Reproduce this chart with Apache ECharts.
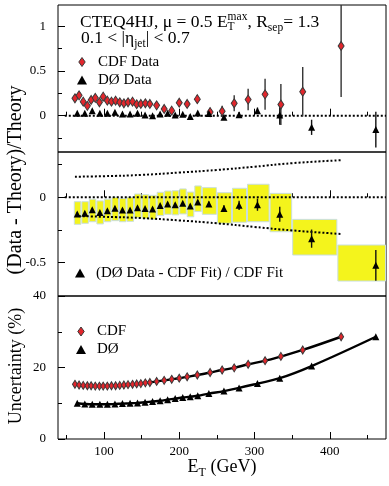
<!DOCTYPE html>
<html><head><meta charset="utf-8">
<script src="https://cdn.jsdelivr.net/npm/echarts@6/dist/echarts.min.js"></script>
<style>html,body{margin:0;padding:0;background:#fff}#c{width:389px;height:486px}</style>
</head><body><div id="c"></div>
<script>
const FONT = '"Liberation Serif","Times New Roman",serif';

// ---------- data ----------
const cdfEt = [61.5,67,72.5,78,83,88.5,94,99,104.5,110,115.5,121,126.5,132,138,143.5,149,155,161,170,180,190,200,210.5,224,241,257,273,291.5,314,335,364,415];
const cdfRatio = [0.195,0.228,0.157,0.11,0.176,0.2,0.15,0.213,0.168,0.157,0.168,0.15,0.139,0.15,0.157,0.128,0.131,0.139,0.131,0.116,0.075,0.056,0.145,0.131,0.185,0.04,0.05,0.139,0.18,0.239,0.125,0.268,0.78];
const cdfRatioErr = [0.02,0.02,0.02,0.02,0.02,0.02,0.02,0.02,0.02,0.02,0.02,0.02,0.02,0.02,0.02,0.02,0.02,0.02,0.02,0.025,0.025,0.03,0.035,0.045,0.045,0.05,0.06,0.09,0.12,0.173,0.23,0.276,0.57];

const d0Et = [64.6,74.6,84.5,94.6,104.6,114.6,124.6,134.7,144.6,154.6,164.6,174.6,184.6,194.6,204.7,214.6,224.6,239.4,259.4,279.5,303.9,333.5,375.8,461.1];
const d0Ratio = [0.027,0.027,0.056,0.027,0.027,0.038,0.019,0.019,0.027,0.008,0.0,0.019,0.027,0.008,0.015,-0.008,0.03,0.025,-0.018,0.01,0.056,0.008,-0.13,-0.155];
const d0RatioErr = [0.01,0.01,0.01,0.01,0.01,0.01,0.01,0.01,0.01,0.01,0.01,0.01,0.01,0.01,0.012,0.012,0.015,0.02,0.02,0.03,0.035,0.11,0.085,0.2];

const binLo = [60,70,80,90,100,110,120,130,140,150,160,170,180,190,200,210,220,230,250,270,290,320,350,410];
const binHi = [70,80,90,100,110,120,130,140,150,160,170,180,190,200,210,220,230,250,270,290,320,350,410,560];
const bandTop = [-0.034,-0.034,-0.015,-0.028,-0.015,0.0,-0.008,0.0,0.025,0.02,0.015,0.038,0.048,0.05,0.064,0.04,0.087,0.074,0.035,0.069,0.1,0.03,-0.17,-0.367];
const bandBottom = [-0.208,-0.2,-0.188,-0.205,-0.188,-0.18,-0.188,-0.185,-0.157,-0.165,-0.17,-0.141,-0.131,-0.135,-0.128,-0.15,-0.11,-0.131,-0.2,-0.192,-0.188,-0.265,-0.444,-0.644];
const d0FitDiff = [-0.128,-0.123,-0.095,-0.118,-0.103,-0.085,-0.098,-0.098,-0.080,-0.087,-0.090,-0.064,-0.052,-0.058,-0.046,-0.067,-0.036,-0.052,-0.087,-0.062,-0.057,-0.131,-0.318,-0.523];
const d0FitDiffErr = [0.012,0.012,0.012,0.012,0.012,0.012,0.012,0.012,0.012,0.012,0.012,0.012,0.012,0.012,0.012,0.012,0.012,0.02,0.025,0.036,0.047,0.058,0.07,0.118];

const cdfBandEt = [61.5,100,150,200,250,300,350,415];
const cdfBandUp = [0.158,0.162,0.172,0.19,0.21,0.235,0.262,0.285];
const cdfBandLow = [-0.144,-0.15,-0.16,-0.178,-0.2,-0.228,-0.255,-0.282];

const cdfUnc = [15.3,15.1,15.0,14.9,14.9,14.8,14.8,14.8,14.8,14.9,14.9,15.0,15.1,15.2,15.3,15.4,15.5,15.7,15.8,16.1,16.4,16.7,17.0,17.4,17.9,18.6,19.3,19.9,20.9,21.9,23.1,24.9,28.6];
const d0Unc = [10.0,9.8,9.7,9.7,9.7,9.8,9.9,10.0,10.1,10.3,10.5,10.7,11.0,11.3,11.6,11.8,12.1,12.7,13.4,14.3,15.5,17.0,20.4,28.6];

const zeroLineEt = [48, 474.6];

const xTicksMajor = [100,200,300,400];
const xTicksMinor = [50,150,250,350,450];
const topTicksMajor = [0,0.5,1];
const topTicksMinor = [-0.25,0.25,0.75];
const midTicksMajor = [-0.5,0];
const midTicksMinor = [-0.25,0.25];
const botTicksMajor = [0,20,40];
const botTicksMinor = [10,30];

// ---------- helpers ----------
const XMIN = 39, XMAX = 474.6;
const zip = (a, b, c) => a.map((v, i) => c ? [v, b[i], c[i]] : [v, b[i]]);
const ctx = document.createElement('canvas').getContext('2d');
function tw(s, size) { ctx.font = size + 'px ' + FONT; return ctx.measureText(s).width; }
function txt(x, baseY, t, size, align) {
  return { type: 'text', x: x, y: baseY - 0.34 * size, z: 100,
    style: { text: t, fontSize: size, fontFamily: FONT, fill: '#000',
      align: align || 'left', textAlign: align || 'left', verticalAlign: 'middle', textVerticalAlign: 'middle' } };
}
function line(x, baseY, segs) {
  const els = []; let cx = x;
  segs.forEach(s => {
    if (s.stack) {
      let w = 0;
      s.stack.forEach(p => { els.push(txt(cx, baseY + p.dy, p.t, p.size)); w = Math.max(w, tw(p.t, p.size)); });
      cx += w;
    } else {
      els.push(txt(cx, baseY + (s.dy || 0), s.t, s.size)); cx += tw(s.t, s.size);
    }
  });
  return els;
}
function widthOf(segs) { return segs.reduce((a, s) => a + (s.stack ? Math.max(...s.stack.map(p => tw(p.t, p.size))) : tw(s.t, s.size)), 0); }

function xAx(g, vals, len, labels) {
  return { type: 'value', gridIndex: g, min: XMIN, max: XMAX, position: 'bottom',
    axisLine: { show: false }, splitLine: { show: false },
    axisTick: { show: true, inside: true, length: len, customValues: vals, lineStyle: { color: '#000', width: 1 } },
    axisLabel: labels ? { show: true, customValues: vals, margin: 6, fontSize: 13, fontFamily: FONT, color: '#000' } : { show: false } };
}
function yAx(g, min, max, vals, len, labels) {
  return { type: 'value', gridIndex: g, min: min, max: max, position: 'left',
    axisLine: { show: false }, splitLine: { show: false },
    axisTick: { show: true, inside: true, length: len, customValues: vals, lineStyle: { color: '#000', width: 1 } },
    axisLabel: labels ? { show: true, customValues: vals, margin: 12, fontSize: 13, fontFamily: FONT, color: '#000' } : { show: false } };
}
function errBar(color, w) {
  return function (params, api) {
    const cs = params.coordSys;
    const x = api.value(0), y = api.value(1), e = api.value(2);
    const a = api.coord([x, y + e]), b = api.coord([x, y - e]);
    const t = Math.max(cs.y, Math.min(a[1], b[1])), bt = Math.min(cs.y + cs.height, Math.max(a[1], b[1]));
    return { type: 'line', shape: { x1: a[0], y1: t, x2: a[0], y2: bt }, style: { stroke: color, lineWidth: w } };
  };
}
function boxItem(params, api) {
  const cs = params.coordSys;
  const p0 = api.coord([api.value(0), api.value(2)]);
  const p1 = api.coord([api.value(1), api.value(3)]);
  const x0 = Math.max(cs.x, p0[0]), x1 = Math.min(cs.x + cs.width, p1[0]);
  return { type: 'rect', shape: { x: x0 + 0.5, y: p0[1], width: x1 - x0 - 1, height: p1[1] - p0[1] },
    style: { fill: '#f4f41c', stroke: '#c9dede', lineWidth: 1 } };
}

const RED = '#e2262c', EDGE = '#3a3a3a';
const DIAMOND_PATH = 'path://M5,0 L10,7 L5,14 L0,7 Z';
const TRI_PATH = 'path://M5,0 L10,9 L0,9 Z';
const dotted = { color: '#000', width: 2, type: [2, 2] };

// ---------- text ----------
const TS = 17.5, SS = 11.5;
const title1 = [
  { t: 'CTEQ4HJ, \u03bc = 0.5 E', size: TS },
  { stack: [{ t: 'max', size: SS, dy: -7 }, { t: 'T', size: SS, dy: 3 }] },
  { t: ', R', size: TS },
  { t: 'sep', size: SS, dy: 4 },
  { t: '= 1.3', size: TS }
];
const title2 = [
  { t: '0.1 < |\u03b7', size: TS },
  { t: 'jet', size: SS, dy: 4 },
  { t: '| < 0.7', size: TS }
];
const xTitle = [
  { t: 'E', size: 18 },
  { t: 'T', size: 12, dy: 4 },
  { t: ' (GeV)', size: 18 }
];
const graphics = [].concat(
  line(80, 28, title1),
  line(81, 44, title2),
  line(222 - widthOf(xTitle) / 2, 473, xTitle),
  [
    { type: 'text', x: 16, y: 180, rotation: Math.PI / 2, z: 100,
      style: { text: '(Data - Theory)/Theory', fontSize: 20, fontFamily: FONT, fill: '#000', align: 'center', textAlign: 'center', verticalAlign: 'middle', textVerticalAlign: 'middle' } },
    { type: 'text', x: 16, y: 366, rotation: Math.PI / 2, z: 100,
      style: { text: 'Uncertainty (%)', fontSize: 18, fontFamily: FONT, fill: '#000', align: 'center', textAlign: 'center', verticalAlign: 'middle', textVerticalAlign: 'middle' } }
  ]
);

const legText = { fontSize: 15, fontFamily: FONT, color: '#000' };
const legBase = { orient: 'vertical', itemWidth: 22, itemHeight: 9, itemGap: 3, padding: 0, selectedMode: false, textStyle: legText };

const option = {
  animation: false,
  backgroundColor: '#fff',
  grid: [
    { left: 58, top: 5, width: 328, height: 147, show: true, borderColor: '#000', borderWidth: 1, outerBoundsMode: 'none' },
    { left: 58, top: 152, width: 328, height: 144, show: true, borderColor: '#000', borderWidth: 1, outerBoundsMode: 'none' },
    { left: 58, top: 296, width: 328, height: 143, show: true, borderColor: '#000', borderWidth: 1, outerBoundsMode: 'none' }
  ],
  xAxis: [
    xAx(0, xTicksMajor, 7, false), xAx(0, xTicksMinor, 4, false),
    xAx(1, xTicksMajor, 7, false), xAx(1, xTicksMinor, 4, false),
    xAx(2, xTicksMajor, 7, true), xAx(2, xTicksMinor, 4, false)
  ],
  yAxis: [
    yAx(0, -0.406, 1.238, topTicksMajor, 7, true), yAx(0, -0.406, 1.238, topTicksMinor, 4, false),
    yAx(1, -0.759, 0.348, midTicksMajor, 7, true), yAx(1, -0.759, 0.348, midTicksMinor, 4, false),
    yAx(2, 0, 40, botTicksMajor, 7, true), yAx(2, 0, 40, botTicksMinor, 4, false)
  ],
  legend: [
    Object.assign({}, legBase, { left: 77, top: 54.5, data: [
      { name: 'CDF Data', icon: DIAMOND_PATH, itemStyle: { color: RED, borderColor: EDGE, borderWidth: 1 } },
      { name: 'D\u00d8 Data', icon: TRI_PATH, itemStyle: { color: '#000', borderWidth: 0 } }] }),
    Object.assign({}, legBase, { left: 75, top: 265.5, data: [
      { name: '(D\u00d8 Data - CDF Fit) / CDF Fit', icon: TRI_PATH, itemStyle: { color: '#000', borderWidth: 0 } }] }),
    Object.assign({}, legBase, { left: 76, top: 324, data: [
      { name: 'CDF', icon: DIAMOND_PATH, itemStyle: { color: RED, borderColor: EDGE, borderWidth: 1 } },
      { name: 'D\u00d8', icon: TRI_PATH, itemStyle: { color: '#000', borderWidth: 0 } }] })
  ],
  graphic: { elements: graphics },
  series: [
    // ---- top panel ----
    { type: 'line', name: 'zeroTop', xAxisIndex: 0, yAxisIndex: 0, data: zeroLineEt.map(x => [x, 0]),
      symbol: 'none', lineStyle: dotted, z: 2, silent: true },
    { type: 'custom', name: 'cdfErr', xAxisIndex: 0, yAxisIndex: 0, renderItem: errBar('#333', 1.4),
      data: zip(cdfEt, cdfRatio, cdfRatioErr), encode: { x: 0, y: 1 }, z: 3 },
    { type: 'custom', name: 'd0Err', xAxisIndex: 0, yAxisIndex: 0, renderItem: errBar('#111', 1.4),
      data: zip(d0Et, d0Ratio, d0RatioErr), encode: { x: 0, y: 1 }, z: 3 },
    { type: 'scatter', name: 'CDF Data', xAxisIndex: 0, yAxisIndex: 0, data: zip(cdfEt, cdfRatio),
      symbol: 'diamond', symbolSize: [6, 9], itemStyle: { color: RED, borderColor: EDGE, borderWidth: 1, opacity: 1 }, z: 5 },
    { type: 'scatter', name: 'D\u00d8 Data', xAxisIndex: 0, yAxisIndex: 0, data: zip(d0Et, d0Ratio),
      symbol: 'triangle', symbolSize: 7, itemStyle: { color: '#000', opacity: 1 }, z: 5 },

    // ---- middle panel ----
    { type: 'custom', name: 'band', xAxisIndex: 2, yAxisIndex: 2, renderItem: boxItem,
      data: binLo.map((v, i) => [v, binHi[i], bandTop[i], bandBottom[i]]), encode: { x: [0, 1], y: [2, 3] }, z: 1 },
    { type: 'line', name: 'zeroMid', xAxisIndex: 2, yAxisIndex: 2, data: zeroLineEt.map(x => [x, 0]),
      symbol: 'none', lineStyle: dotted, z: 2, silent: true },
    { type: 'line', name: 'cdfUp', xAxisIndex: 2, yAxisIndex: 2, data: zip(cdfBandEt, cdfBandUp),
      symbol: 'none', smooth: true, lineStyle: dotted, z: 2, silent: true },
    { type: 'line', name: 'cdfLow', xAxisIndex: 2, yAxisIndex: 2, data: zip(cdfBandEt, cdfBandLow),
      symbol: 'none', smooth: true, lineStyle: dotted, z: 2, silent: true },
    { type: 'custom', name: 'diffErr', xAxisIndex: 2, yAxisIndex: 2, renderItem: errBar('#111', 1.4),
      data: zip(d0Et, d0FitDiff, d0FitDiffErr), encode: { x: 0, y: 1 }, z: 3 },
    { type: 'scatter', name: '(D\u00d8 Data - CDF Fit) / CDF Fit', xAxisIndex: 2, yAxisIndex: 2, data: zip(d0Et, d0FitDiff),
      symbol: 'triangle', symbolSize: 7, itemStyle: { color: '#000', opacity: 1 }, z: 5 },

    // ---- bottom panel ----
    { type: 'line', name: 'CDF', xAxisIndex: 4, yAxisIndex: 4, data: zip(cdfEt, cdfUnc), smooth: 0.4,
      symbol: 'diamond', symbolSize: [5, 8], showSymbol: true,
      itemStyle: { color: RED, borderColor: EDGE, borderWidth: 1 }, lineStyle: { color: '#000', width: 2.4 }, z: 4 },
    { type: 'line', name: 'D\u00d8', xAxisIndex: 4, yAxisIndex: 4, data: zip(d0Et, d0Unc), smooth: 0.4,
      symbol: 'triangle', symbolSize: 7, showSymbol: true,
      itemStyle: { color: '#000' }, lineStyle: { color: '#000', width: 2.4 }, z: 4 }
  ]
};

const chart = echarts.init(document.getElementById('c'), null, { renderer: 'canvas' });
chart.setOption(option);
</script>
</body></html>
